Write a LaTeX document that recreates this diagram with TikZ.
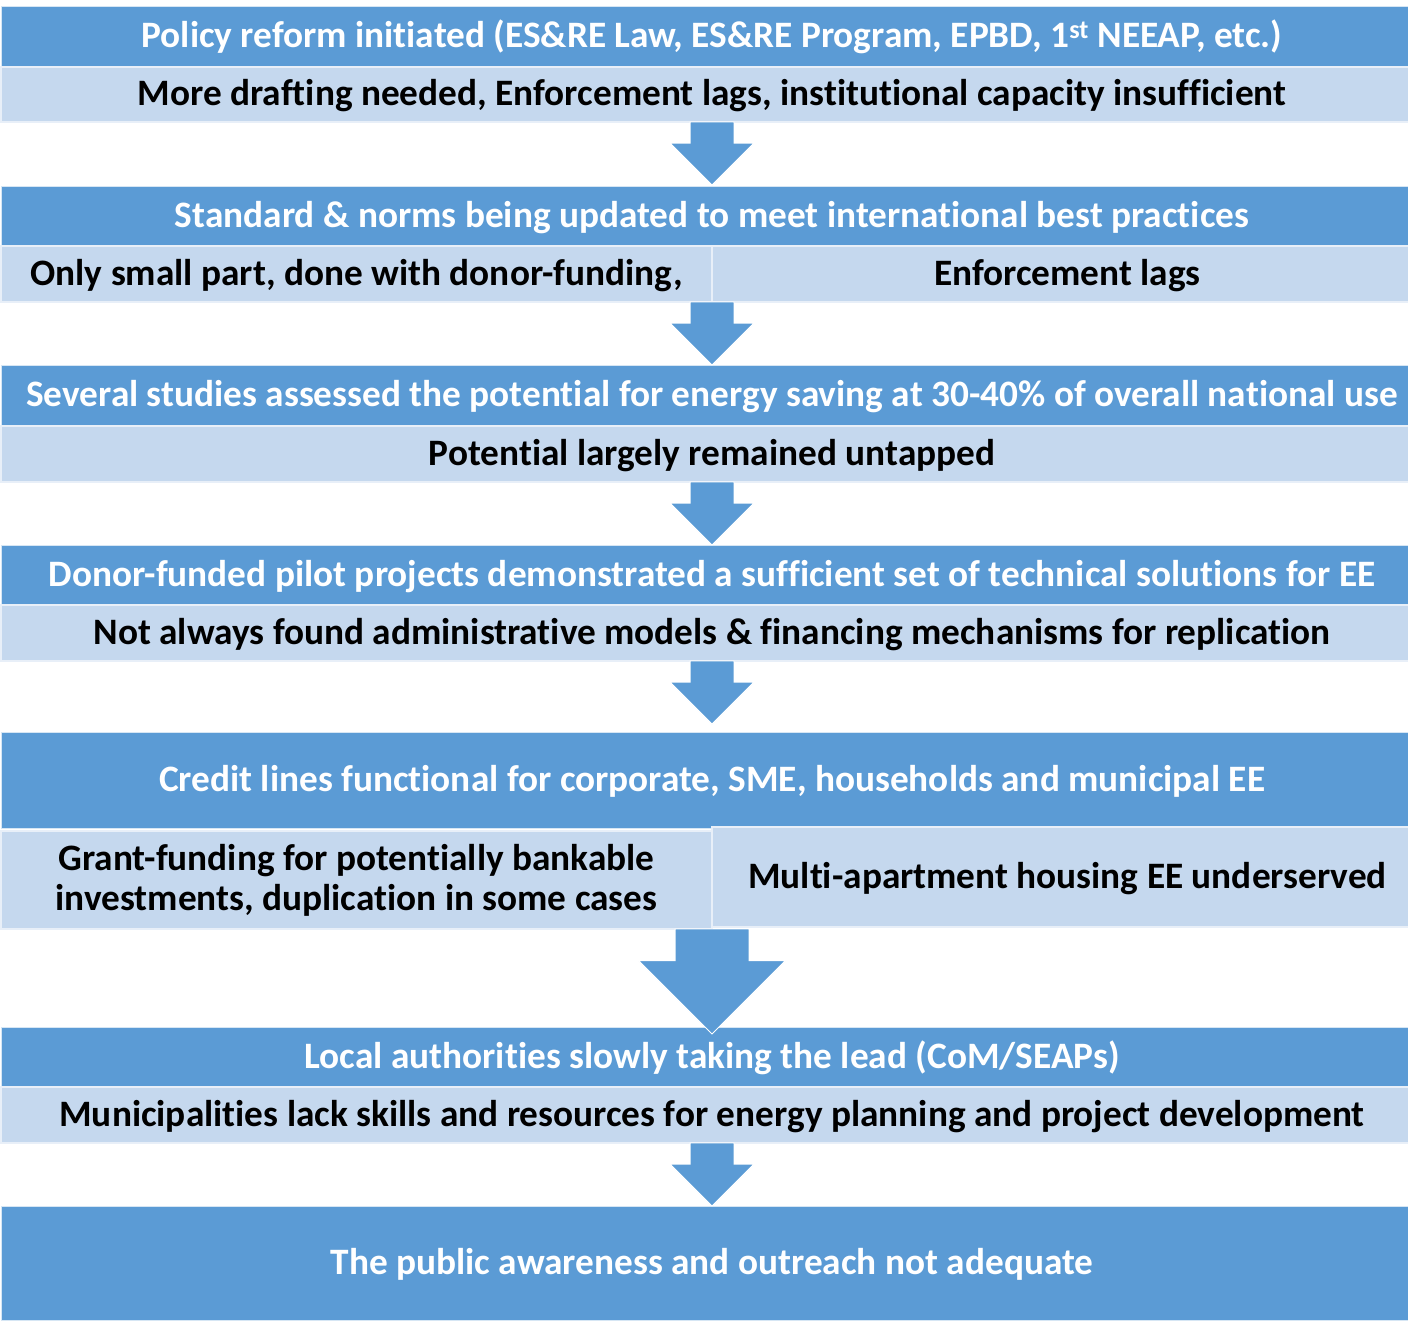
\documentclass[tikz,border=0pt]{standalone}
\usepackage{fontspec}
\setmainfont{Carlito}[Ligatures={NoCommon,NoRare}]
\usetikzlibrary{shapes.arrows,positioning}
\definecolor{stepblue}{RGB}{91,155,213}
\definecolor{noteblue}{RGB}{197,216,238}

\begin{document}
\begin{tikzpicture}[x=1pt, y=-1pt,
    every node/.style={inner sep=0pt, outer sep=0pt},
    stage/.style={rectangle, fill=stepblue, draw=white!75!stepblue, line width=0.8pt, text=white,
        minimum width=1422pt, text height=29pt, text depth=7pt, font=\bfseries\fontsize{37.3}{40}\selectfont},
    issue/.style={rectangle, fill=noteblue, draw=white!60!noteblue, line width=1.2pt, text=black,
        minimum width=1422pt, text height=29pt, text depth=7pt, font=\bfseries\fontsize{37.3}{40}\selectfont},
    half/.style={issue, minimum width=711pt, align=center},
    flow/.style={single arrow, fill=stepblue, draw=white, line width=0.8pt, rotate=-90, anchor=tail,
        text height=, text depth=, inner ysep=21.5pt, single arrow head extend=20pt, minimum height=63pt},
    bigflow/.style={flow, inner ysep=36.5pt, single arrow head extend=36.5pt, minimum height=105pt}
]
    \useasboundingbox (0,0) rectangle (1408,1323);
    \fill[white] (0,0) rectangle (1408,1323);
    \clip (0,0) rectangle (1408,1323);

    % stages and what holds them back
    \node[stage, minimum height=61pt] (s1) at (712,36.5) {Policy reform initiated (ES\&RE Law, ES\&RE Program, EPBD, 1\textsuperscript{st} NEEAP, etc.)};
    \node[issue, minimum height=55pt] (i1) at (712,94.5) {More drafting needed, Enforcement lags, institutional capacity insufficient};

    \node[stage, minimum height=60pt] (s2) at (712,216) {Standard \& norms being updated to meet international best practices};
    \node[half, minimum height=56pt] (i2a) at (356.5,274) {Only small part, done with donor-funding,};
    \node[half, minimum height=56pt] (i2b) at (1067.5,274) {Enforcement lags};

    \node[stage, minimum height=61pt] (s3) at (712,395.5) {Several studies assessed the potential for energy saving at 30-40\% of overall national use};
    \node[issue, minimum height=56pt] (i3) at (712,454) {Potential largely remained untapped};

    \node[stage, minimum height=60pt] (s4) at (712,575) {Donor-funded pilot projects demonstrated a sufficient set of technical solutions for EE};
    \node[issue, minimum height=56pt] (i4) at (712,633) {Not always found administrative models \& financing mechanisms for replication};

    \node[stage, minimum height=96pt] (s5) at (712,780) {Credit lines functional for corporate, SME, households and municipal EE};
    \node[half, minimum height=98pt, text height=, text depth=] (i5a) at (356.5,880) {Grant-funding for potentially bankable\\investments, duplication in some cases};
    \node[half, minimum height=100pt] (i5b) at (1067.5,877) {Multi-apartment housing EE underserved};

    \node[stage, minimum height=60pt] (s6) at (712,1057) {Local authorities slowly taking the lead (CoM/SEAPs)};
    \node[issue, minimum height=56pt] (i6) at (712,1115) {Municipalities lack skills and resources for energy planning and project development};

    \node[stage, minimum height=114pt] (s7) at (712,1263) {The public awareness and outreach not adequate};

    % block arrows between the stages
    \node[flow] (a1) at (i1.south) {};
    \node[flow] (a2) at (i2a.south east) {};
    \node[flow] (a3) at (i3.south) {};
    \node[flow] (a4) at (i4.south) {};
    \node[bigflow] (a5) at (i5a.south east) {};
    \node[flow] (a6) at (i6.south) {};
\end{tikzpicture}
\end{document}
